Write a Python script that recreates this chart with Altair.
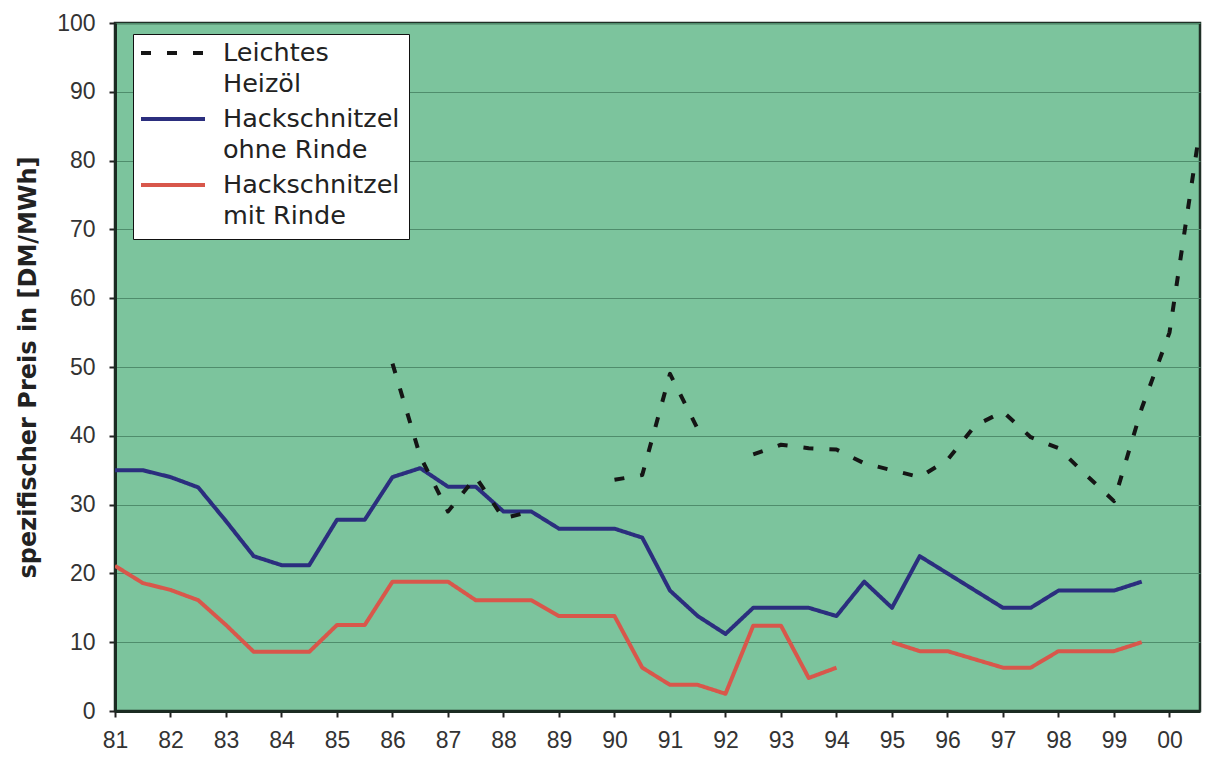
import altair as alt
import pandas as pd

# half-year steps, 1981 .. 2000.5 (two-digit years as on the axis)
years = [81, 81.5, 82, 82.5, 83, 83.5, 84, 84.5, 85, 85.5,
         86, 86.5, 87, 87.5, 88, 88.5, 89, 89.5, 90, 90.5,
         91, 91.5, 92, 92.5, 93, 93.5, 94, 94.5, 95, 95.5,
         96, 96.5, 97, 97.5, 98, 98.5, 99, 99.5, 100, 100.5]

heizoel = [None, None, None, None, None, None, None, None, None, None,
           50.5, 37.0, 29.0, 34.0, 28.0, 29.0, None, None, 33.6, 34.3,
           49.0, 41.0, None, 37.3, 38.7, 38.2, 38.0, 36.0, 35.0, 34.0,
           36.5, 41.5, 43.5, 39.8, 38.2, 34.3, 30.5, 44.0, 55.0, 82.0]

ohne_rinde = [35.0, 35.0, 34.0, 32.5, 27.6, 22.5, 21.2, 21.2, 27.8, 27.8,
              34.0, 35.3, 32.6, 32.6, 29.0, 29.0, 26.5, 26.5, 26.5, 25.2,
              17.5, 13.8, 11.2, 15.0, 15.0, 15.0, 13.8, 18.8, 15.0, 22.5,
              20.0, 17.5, 15.0, 15.0, 17.5, 17.5, 17.5, 18.8, None, None]

mit_rinde = [21.1, 18.6, 17.6, 16.1, 12.5, 8.6, 8.6, 8.6, 12.5, 12.5,
             18.8, 18.8, 18.8, 16.1, 16.1, 16.1, 13.8, 13.8, 13.8, 6.3,
             3.8, 3.8, 2.5, 12.4, 12.4, 4.8, 6.3, None, 10.0, 8.7,
             8.7, 7.5, 6.3, 6.3, 8.7, 8.7, 8.7, 10.0, None, None]

series_names = ["Leichtes\nHeizöl", "Hackschnitzel\nohne Rinde", "Hackschnitzel\nmit Rinde"]
series_values = [heizoel, ohne_rinde, mit_rinde]
series_colors = ["#151515", "#2b2e7e", "#d8574b"]
series_dashes = [[10, 16], [1, 0], [1, 0]]

x_ticks = list(range(81, 101))
y_ticks = list(range(0, 101, 10))

rows = []
for name, vals in zip(series_names, series_values):
    seg = 0
    prev = None
    for yr, v in zip(years, vals):
        if v is None:
            if prev is not None:
                seg += 1
            prev = None
            continue
        rows.append({"year": yr, "value": v, "series": name, "seg": f"{name}-{seg}"})
        prev = v
df = pd.DataFrame(rows)

legend = alt.Legend(
    title=None, orient="none", legendX=18, legendY=11,
    fillColor="white", strokeColor="#111111", padding=9,
    symbolType="M-2,-0.5L2,-0.5", symbolSize=1024, symbolStrokeWidth=4,
    symbolOffset=13,
    labelFont="DejaVu Sans", labelFontSize=25.5, labelColor="#222222",
    labelBaseline="alphabetic", labelExpr="split(datum.label, '\\n')",
    labelLimit=400, labelOffset=32, rowPadding=9,
)

color_scale = alt.Scale(domain=series_names, range=series_colors)
dash_scale = alt.Scale(domain=series_names, range=series_dashes)

base = alt.Chart(df).mark_line(strokeWidth=4, clip=True, strokeCap="butt", strokeJoin="round").encode(
    x=alt.X("year:Q", scale=alt.Scale(domain=[81, 100.55], nice=False, zero=False),
            axis=alt.Axis(values=x_ticks, title=None, grid=False, labelPadding=12, labelFlush=False,
                          labelExpr="datum.value >= 100 ? '00' : format(datum.value, 'd')")),
    y=alt.Y("value:Q", scale=alt.Scale(domain=[0, 100], nice=False),
            axis=alt.Axis(values=y_ticks, title="spezifischer Preis in  [DM/MWh]",
                          grid=True, labelPadding=14, titleX=-87, titleBaseline="middle",
                          titleFont="DejaVu Sans", titleFontSize=24, titleFontWeight="bold",
                          titleColor="#222222")),
    color=alt.Color("series:N", scale=color_scale, legend=legend),
    strokeDash=alt.StrokeDash("series:N", scale=dash_scale, legend=legend),
    detail="seg:N",
)

layers = [base.transform_filter(alt.datum.series == n) for n in [series_names[2], series_names[1], series_names[0]]]

chart = alt.layer(*layers).properties(
    width=1085, height=688,
    autosize=alt.AutoSizeParams(type="none"),
    padding={"left": 107, "top": 15, "right": 2, "bottom": 44},
).configure(
    style={"guide-label": {"lineHeight": 31}}
).configure_view(
    fill="#7cc49d", stroke="#1f2f26", strokeWidth=2.5
).configure_axis(
    labelFont="Liberation Sans", labelFontSize=23, labelColor="#333333",
    domainColor="#1b2b22", domainWidth=3, tickColor="#222222", tickWidth=2, tickSize=6,
    gridColor="#4f8d6c", gridWidth=1.2,
)

chart.save("out.html", embed_options={"renderer": "svg", "actions": False})
